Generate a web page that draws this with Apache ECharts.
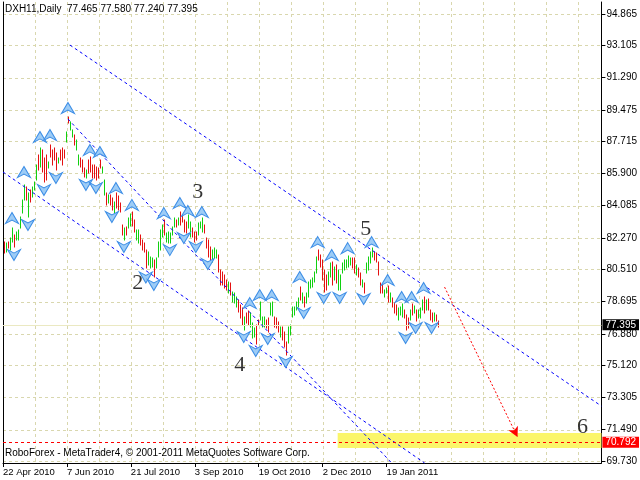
<!DOCTYPE html>
<html><head><meta charset="utf-8">
<script src="https://cdn.jsdelivr.net/npm/echarts@6/dist/echarts.min.js"></script>
<style>html,body{margin:0;padding:0;background:#fff}#c{width:640px;height:480px}</style>
</head><body><div id="c"></div><script>
// ---- data ----
const highs = [82.04,81.99,82.04,82.27,82.83,82.44,82.61,82.72,83.45,84.41,
85.25,85.14,84.80,84.97,85.14,85.42,86.37,86.94,87.33,87.22,
86.77,86.94,86.54,87.50,87.22,87.33,87.05,86.77,87.22,87.33,
87.22,88.23,89.07,88.79,88.34,88.06,87.78,86.94,86.77,86.66,
86.21,86.09,86.66,86.82,86.37,86.37,86.26,86.21,86.66,86.26,
85.53,84.80,84.69,84.69,84.52,84.29,84.80,84.63,84.24,83.00,
82.83,82.89,83.39,83.62,83.73,83.28,82.72,82.72,82.44,82.16,
81.99,81.59,81.48,81.20,81.14,81.03,81.14,82.04,82.72,83.00,
83.28,82.55,82.61,82.55,82.89,83.39,83.28,83.39,83.73,83.56,
83.28,83.17,83.56,83.17,82.83,82.61,82.61,83.11,83.17,83.39,
83.00,82.27,82.16,81.76,81.59,81.71,81.59,81.31,80.47,80.36,
80.19,79.91,79.80,79.74,79.23,79.18,78.95,78.78,78.50,78.33,
77.83,78.05,78.16,78.05,77.49,77.21,77.38,77.66,78.67,77.83,
77.83,77.66,77.77,78.61,78.67,77.83,77.77,77.55,77.27,77.27,
76.98,76.42,77.27,77.38,78.39,78.39,78.67,78.90,79.51,79.18,
78.95,79.18,79.80,79.91,80.02,80.36,81.20,81.59,81.31,81.03,
80.47,80.19,80.36,80.86,80.92,80.64,80.75,80.47,80.19,80.86,
81.03,81.03,81.26,81.14,81.14,81.14,80.75,80.58,80.30,79.91,
79.74,80.86,81.20,81.48,81.71,81.48,81.43,80.92,79.74,79.63,
79.35,79.46,79.57,79.18,78.90,78.61,78.50,78.33,78.39,78.56,
78.22,77.94,77.77,78.22,78.56,78.45,78.22,78.22,78.33,78.78,
78.95,78.78,78.84,78.22,78.05,78.05,77.94,77.58];
const lows = [81.43,81.48,81.71,81.59,82.04,81.76,82.16,82.16,82.83,83.68,
84.41,84.41,83.45,84.29,84.58,84.97,85.53,86.09,86.26,85.98,
85.42,85.53,86.21,86.82,86.37,86.66,86.09,86.49,86.66,86.37,
86.77,87.67,88.74,88.34,87.95,87.50,87.22,86.37,86.26,85.98,
85.70,85.64,85.92,85.98,85.64,85.64,85.53,85.64,86.21,85.92,
84.69,84.13,84.24,84.13,83.84,83.68,83.96,83.84,83.73,82.44,
82.16,82.44,82.83,82.94,82.94,82.61,82.16,81.99,81.88,81.59,
81.48,80.58,80.75,80.58,80.64,80.08,80.58,81.20,81.59,82.33,
82.44,82.04,81.99,81.99,82.44,82.89,82.89,83.00,83.00,83.17,
82.61,82.55,82.83,82.33,82.33,82.04,82.16,82.44,82.83,82.61,
82.55,81.71,81.20,80.92,80.92,81.14,81.14,80.36,79.63,79.63,
79.46,79.35,79.18,79.06,78.67,78.61,78.39,78.11,77.77,77.38,
77.10,77.49,77.38,77.27,76.65,76.70,76.31,77.38,77.66,77.27,
77.27,77.21,76.98,77.94,77.88,77.27,77.21,76.98,76.70,76.53,
76.14,75.69,76.37,76.82,77.83,77.94,78.22,78.39,78.78,78.61,
78.39,78.61,78.95,79.46,79.51,79.80,80.30,81.03,80.64,79.91,
79.23,79.35,79.63,80.08,79.63,79.91,79.74,79.35,79.35,80.30,
80.47,80.58,80.64,80.75,80.58,80.30,80.19,80.08,79.63,79.51,
79.18,80.30,80.47,80.86,81.20,81.03,80.92,80.19,79.18,79.18,
78.95,79.18,78.67,78.67,78.39,78.05,77.94,77.66,77.94,77.83,
77.77,77.10,77.21,77.66,77.94,78.05,77.60,77.77,77.77,78.22,
78.05,78.22,78.22,77.66,77.55,77.60,77.60,77.24];
const dirs = [-1,1,-1,1,1,-1,1,1,1,1,
1,-1,1,-1,1,1,1,-1,1,-1,
-1,-1,1,-1,-1,-1,-1,1,-1,-1,
-1,1,-1,1,1,-1,1,1,-1,-1,
-1,1,-1,-1,-1,-1,-1,-1,-1,1,
1,-1,1,-1,-1,1,-1,-1,-1,-1,
1,-1,1,1,-1,-1,1,1,-1,-1,
-1,-1,1,1,1,-1,1,1,1,1,
-1,1,1,1,1,1,-1,1,-1,-1,
-1,-1,1,1,-1,-1,-1,1,1,1,
-1,-1,-1,-1,1,1,1,-1,-1,-1,
-1,-1,1,-1,1,1,1,-1,-1,-1,
1,-1,-1,1,1,1,-1,-1,1,1,
1,-1,-1,1,1,-1,-1,-1,1,-1,
-1,-1,1,1,1,1,1,1,-1,1,
-1,1,1,1,1,1,1,-1,-1,-1,
-1,-1,1,1,-1,1,-1,1,1,1,
1,1,1,1,-1,-1,1,-1,-1,1,
-1,1,1,1,1,-1,-1,-1,-1,-1,
1,1,-1,1,-1,-1,-1,1,1,1,
-1,-1,-1,1,-1,1,-1,1,1,1,
-1,1,-1,-1,-1,1,-1,-1];

const upIdx = [4,10,18,23,32,43,48,56,64,80,88,92,99,123,128,134,148,157,164,172,184,192,199,204,210];
const upVal = [83.39,85.98,87.95,88.06,89.58,87.22,87.11,85.08,84.13,83.67,84.24,83.79,83.73,78.61,79.06,79.06,80.08,82.04,81.31,81.70,82.04,79.91,78.95,78.95,79.46];
const dnIdx = [5,12,20,26,41,46,54,60,71,75,83,90,96,102,120,126,132,141,150,160,168,180,201,206,214];
const dnVal = [81.31,83.00,84.97,85.64,85.25,85.08,83.45,81.76,80.05,79.63,81.59,82.27,81.76,80.81,76.70,75.92,76.59,75.30,78.05,78.90,78.90,78.84,76.65,77.21,77.21];

const priceTicks = [94.865,93.105,91.290,89.475,87.715,85.900,84.085,82.270,80.510,78.695,76.880,75.120,73.305,71.490,69.730];
const dateTicks = [-0.5,31.5,63.5,95.5,127.5,159.5,191.5];
const dateLabels = ['22 Apr 2010','7 Jun 2010','21 Jul 2010','3 Sep 2010','19 Oct 2010','2 Dec 2010','19 Jan 2011'];
const vGridTicks = [15.5,31.5,47.5,63.5,79.5,95.5,111.5,127.5,143.5,159.5,175.5,191.5,207.5,223.5,239.5,255.5,271.5,287.5];

const waveNames = ['2','3','4','5','6'];
const waveIdx = [67,97,118,181,289.5];
const waveVal = [79.74,84.86,75.13,82.78,71.64];

// trend lines: [startIdx, startVal, endIdx, endVal]
const upperLine = [33, 93.12, 299, 72.82];
const lowerLine = [-0.5, 85.98, 210.5, 69.62];
const steepLine = [32, 88.96, 194, 69.62];
const forecastArrow = [220.5, 79.51, 257, 71.08];
const targetZone = [167, 71.304, 299, 70.461];
const bidPrice = 77.395;
const targetPrice = 70.792;

const Y_MIN = 69.618, Y_MAX = 95.540, X_MIN = -0.5, X_MAX = 299;
const FONT = 'Liberation Sans';

const chart = echarts.init(document.getElementById('c'), null, {renderer:'canvas'});
const barData = highs.map((h,i)=>[i, lows[i], h, dirs[i]]);
const gridData = priceTicks.map(v=>[X_MIN, v, 0]).concat(vGridTicks.map(v=>[v, Y_MIN, 1]));

function seg(a, color){
  return [{coord:[a[0],a[1]], symbol:'none'}, {coord:[a[2],a[3]], symbol:'none', lineStyle:{color:color, width:1, type:[3,3]}}];
}

const option = {
  animation:false,
  backgroundColor:'#ffffff',
  grid:{left:3, top:2, width:599, height:461},
  xAxis:[{
    type:'value', min:X_MIN, max:X_MAX,
    axisLine:{show:true, onZero:false, lineStyle:{color:'#000'}},
    axisTick:{show:true, length:4, customValues:dateTicks, lineStyle:{color:'#000'}},
    axisLabel:{customValues:dateTicks, align:'left', margin:4, fontSize:9.5, fontFamily:FONT, color:'#000',
      formatter:function(v){const k=dateTicks.findIndex(t=>Math.abs(t-v)<1e-6);return k>=0?dateLabels[k]:'';}},
    splitLine:{show:false}
  }],
  yAxis:[{
    type:'value', position:'right', min:Y_MIN, max:Y_MAX,
    axisLine:{show:true, onZero:false, lineStyle:{color:'#000'}},
    axisTick:{show:true, length:4, customValues:priceTicks, lineStyle:{color:'#000'}},
    axisLabel:{customValues:priceTicks, margin:5, fontSize:10, fontFamily:FONT, color:'#000', formatter:v=>v.toFixed(3)},
    splitLine:{show:false}
  },{
    type:'value', position:'left', min:Y_MIN, max:Y_MAX,
    axisLine:{show:true, onZero:false, lineStyle:{color:'#000'}},
    axisTick:{show:false}, axisLabel:{show:false}, splitLine:{show:false}
  }],
  graphic:[
    {type:'text', left:5, top:4, z:10, style:{text:'DXH11,Daily  77.465 77.580 77.240 77.395', font:'10px "Liberation Sans"', fill:'#000'}},
    {type:'text', left:5, top:448, z:10, style:{text:'RoboForex - MetaTrader4, \u00a9 2001-2011 MetaQuotes Software Corp.', font:'10px "Liberation Sans"', fill:'#000'}}
  ],
  series:[
    {type:'custom', z:0, silent:true, data:gridData, clip:true,
     renderItem:function(params, api){
       const cs = params.coordSys;
       const p = api.coord([api.value(0), api.value(1)]);
       let shape;
       if (api.value(2) === 0) {
         const y = Math.round(p[1]) + 0.5;
         shape = {x1:cs.x, y1:y, x2:cs.x+cs.width, y2:y};
       } else {
         const x = Math.round(p[0]) + 0.5;
         shape = {x1:x, y1:cs.y, x2:x, y2:cs.y+cs.height};
       }
       return {type:'line', shape:shape, style:{stroke:'#d9d7ae', lineWidth:1, lineDash:[3,3]}};
     }},
    {type:'line', data:[], z:1, silent:true,
     markArea:{silent:true, itemStyle:{color:'#fbf66a'},
       data:[[{coord:[targetZone[0],targetZone[1]]},{coord:[targetZone[2],targetZone[3]]}]]}},
    {type:'line', data:[], z:2, silent:true,
     markLine:{silent:true, symbol:['none','none'], animation:false,
       data:[
         {yAxis:bidPrice, lineStyle:{color:'#ebe9c2', width:1, type:'solid'},
          label:{show:true, position:'end', distance:1, formatter:bidPrice.toFixed(3), color:'#fff', backgroundColor:'#000', padding:[1,3,0,3], fontSize:10, fontFamily:FONT}}
       ]}},
    {type:'custom', z:3, silent:true, data:barData, encode:{x:0, y:[1,2]},
     renderItem:function(params, api){
       const p1 = api.coord([api.value(0), api.value(1)]);
       const p2 = api.coord([api.value(0), api.value(2)]);
       const x = Math.round(p1[0]) + 0.5;
       return {type:'line', shape:{x1:x, y1:Math.round(p1[1])+0.5, x2:x, y2:Math.round(p2[1])-0.5},
         style:{stroke: api.value(3) > 0 ? '#10d010' : '#e41010', lineWidth:1}};
     }},
    {type:'line', data:[], z:4, silent:true,
     markLine:{silent:true, symbol:['none','none'], animation:false, label:{show:false},
       data:[
         seg(upperLine, '#0000ff'),
         seg(lowerLine, '#0000ff'),
         seg(steepLine, '#0000ff'),
         [{coord:[forecastArrow[0],forecastArrow[1]], symbol:'none'},
          {coord:[forecastArrow[2],forecastArrow[3]], symbol:'arrow', symbolSize:[8,10], lineStyle:{color:'#ff0000', width:1, type:[2,2]}}],
         {yAxis:targetPrice, lineStyle:{color:'#ff0000', width:1, type:[3,3]},
          label:{show:true, position:'end', distance:1, formatter:targetPrice.toFixed(3), color:'#fff', backgroundColor:'#ff0000', padding:[1,3,0,3], fontSize:10, fontFamily:FONT}}
       ]}},
    {type:'scatter', z:5, silent:true, symbol:'path://M6.5,0 L13,11 L6.5,7.5 L0,11 Z', symbolSize:[13,11],
     itemStyle:{color:'#9dccf6', borderColor:'#3d8ee6', borderWidth:1, opacity:1},
     data:upIdx.map((v,k)=>[v, upVal[k]])},
    {type:'scatter', z:5, silent:true, symbol:'path://M6.5,0 L13,11 L6.5,7.5 L0,11 Z', symbolSize:[13,11], symbolRotate:180,
     itemStyle:{color:'#9dccf6', borderColor:'#3d8ee6', borderWidth:1, opacity:1},
     data:dnIdx.map((v,k)=>[v, dnVal[k]])},
    {type:'scatter', z:6, silent:true, symbolSize:1, itemStyle:{color:'rgba(0,0,0,0)'},
     label:{show:true, position:'inside', formatter:p=>p.value[2], fontSize:22, fontFamily:'Liberation Serif', color:'#000'},
     data:waveIdx.map((v,k)=>[v, waveVal[k], waveNames[k]])}
  ]
};
chart.setOption(option);
</script></body></html>
